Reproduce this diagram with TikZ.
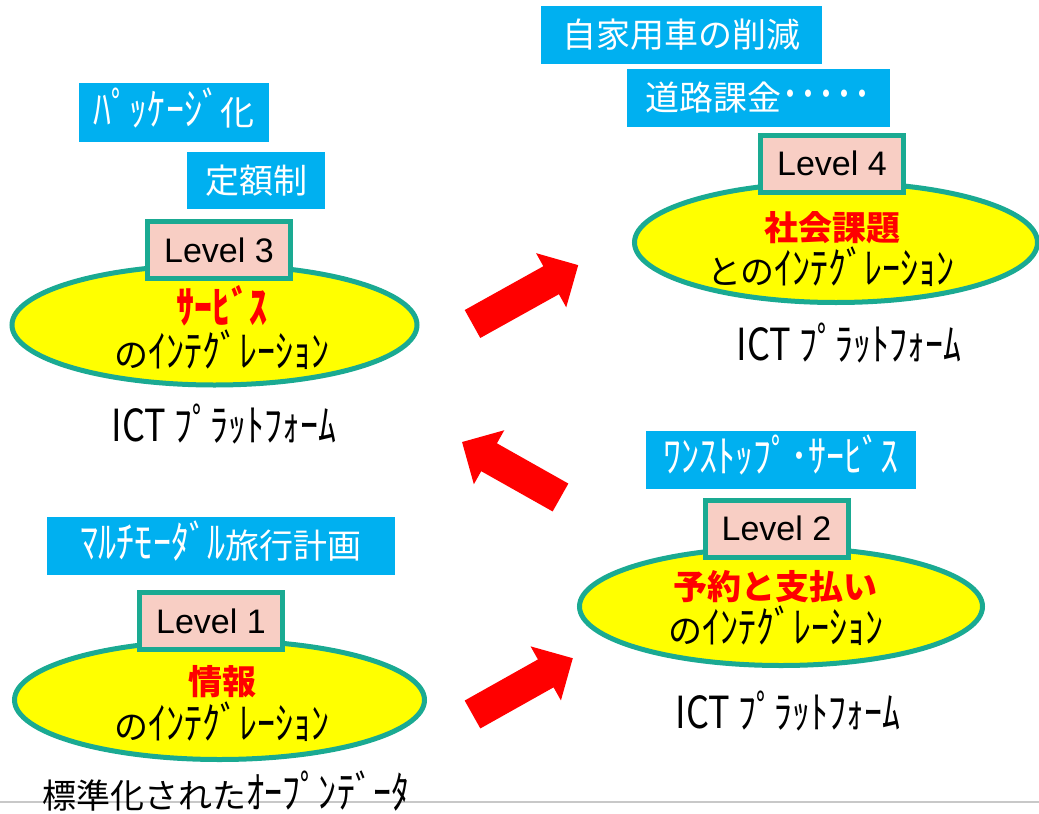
\documentclass[tikz,border=0pt]{standalone}
\usepackage{fontspec}
\usepackage{graphicx}
\setmainfont{Liberation Sans}
\newfontfamily\jp{Noto Sans CJK JP}
\usetikzlibrary{shapes.geometric}
\definecolor{boxblue}{RGB}{0,176,240}
\definecolor{tealline}{RGB}{26,170,146}
\definecolor{pinkfill}{RGB}{248,206,196}
\definecolor{ellyellow}{RGB}{255,255,0}
\definecolor{txtred}{RGB}{255,0,0}
\definecolor{linegray}{RGB}{200,200,200}
% half-width katakana run: taller, like the condensed font of the original
\newcommand\hk[1]{\scalebox{1.06}[1.3]{#1}}
\newcommand\myredarrow[4]{% name, tail point, angle, length
  \coordinate (#1) at (#2);
  \fill[txtred, shift={(#2)}, rotate=#3]
    (0,-16) -- ({#4-31},-16) -- ({#4-31},-31) -- (#4,0) -- ({#4-31},31) -- ({#4-31},16) -- (0,16) -- cycle;
}
\begin{document}
\begin{tikzpicture}[x=1pt,y=-1pt,
  tagbox/.style={fill=boxblue, text=white, font=\jp\fontsize{34}{34}\selectfont,
    inner sep=0pt, text height=25.8pt, text depth=0pt},
  levelbox/.style={draw=tealline, line width=5pt, fill=pinkfill, inner sep=0pt,
    minimum width=143pt, minimum height=57pt, font=\fontsize{34}{34}\selectfont,
    text height=24.4pt, text depth=0pt},
  integ/.style={ellipse, draw=tealline, line width=5pt, fill=ellyellow, inner sep=0pt},
  redlbl/.style={text=txtred, font=\jp\bfseries\fontsize{34}{34}\selectfont,
    inner sep=0pt, text height=25.8pt, text depth=0pt},
  blklbl/.style={text=black, font=\jp\fontsize{34}{34}\selectfont,
    inner sep=0pt, text height=25.8pt, text depth=0pt}
]
\useasboundingbox[fill=white] (0,0) rectangle (1039,814);

% bottom gray rule
\coordinate (ruleL) at (0,802);
\coordinate (ruleR) at (1039,802);
\draw[linegray, line width=2pt] (ruleL) -- (ruleR);

% blue tag boxes
\node[tagbox, minimum width=281pt, minimum height=58pt] (t41) at (681.5,35) {自家用車の削減};
\node[tagbox, minimum width=263pt, minimum height=58pt] (t42) at (758.5,98) {道路課金\hk{･････}};
\node[tagbox, minimum width=190pt, minimum height=59pt] (t31) at (174,112.5) {\hk{ﾊﾟｯｹｰｼﾞ}化};
\node[tagbox, minimum width=138pt, minimum height=57pt] (t32) at (256,180.5) {定額制};
\node[tagbox, minimum width=270pt, minimum height=58pt] (t21) at (781,460) {\hk{ﾜﾝｽﾄｯﾌﾟ･ｻｰﾋﾞｽ}};
\node[tagbox, minimum width=348pt, minimum height=58pt] (t11) at (221,546) {\hk{ﾏﾙﾁﾓｰﾀﾞﾙ}旅行計画};

% ellipses
\node[integ, minimum width=405pt, minimum height=120pt] (e3) at (214.5,325) {};
\node[integ, minimum width=410pt, minimum height=119pt] (e1) at (219.5,700) {};
\node[integ, minimum width=403pt, minimum height=118pt] (e2) at (781,606.5) {};
\node[integ, minimum width=403pt, minimum height=120pt] (e4) at (836,242.5) {};

% level boxes
\node[levelbox] (l3) at (219,250) {Level 3};
\node[levelbox] (l1) at (211,621) {Level 1};
\node[levelbox] (l2) at (776.5,528.5) {Level 2};
\node[levelbox] (l4) at (832,163.5) {Level 4};

% ellipse texts
\node[redlbl] (r3) at (222,311) {\hk{ｻｰﾋﾞｽ}};
\node[blklbl] (b3) at (222,355) {の\hk{ｲﾝﾃｸﾞﾚｰｼｮﾝ}};
\node[redlbl] (r1) at (222,682) {情報};
\node[blklbl] (b1) at (222,727) {の\hk{ｲﾝﾃｸﾞﾚｰｼｮﾝ}};
\node[redlbl] (r2) at (775,587) {予約と支払い};
\node[blklbl] (b2) at (776,631) {の\hk{ｲﾝﾃｸﾞﾚｰｼｮﾝ}};
\node[redlbl] (r4) at (832,228) {社会課題};
\node[blklbl] (b4) at (831,272) {との\hk{ｲﾝﾃｸﾞﾚｰｼｮﾝ}};

% platform labels
\node[blklbl] (p3) at (224,429) {\hk{ICT ﾌﾟﾗｯﾄﾌｫｰﾑ}};
\node[blklbl] (p4) at (849,348) {\hk{ICT ﾌﾟﾗｯﾄﾌｫｰﾑ}};
\node[blklbl] (p2) at (788,716) {\hk{ICT ﾌﾟﾗｯﾄﾌｫｰﾑ}};
\node[blklbl] (p1) at (226,796) {標準化された\hk{ｵｰﾌﾟﾝﾃﾞｰﾀ}};

% red block arrows
\myredarrow{a12}{472.5,714.5}{29.3}{115}
\myredarrow{a34}{472.5,324}{29.1}{121}
\myredarrow{a23}{560.5,497.5}{150.6}{113}
\end{tikzpicture}
\end{document}
